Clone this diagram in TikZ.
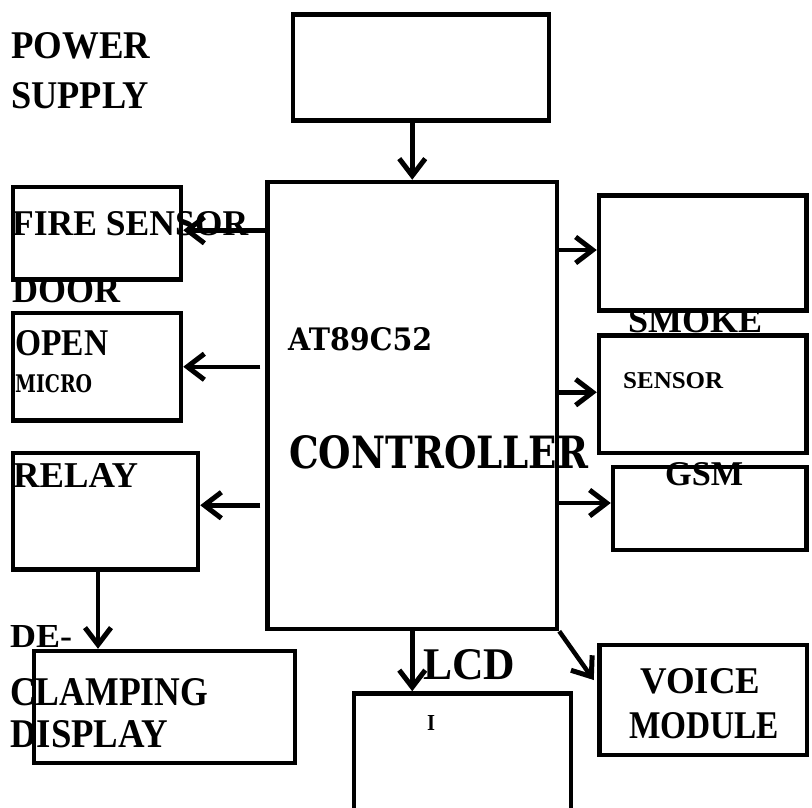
\documentclass[tikz,border=0pt]{standalone}
\usepackage{fontspec}
\setmainfont{Liberation Serif}
\newfontfamily\cambria{DejaVu Serif}
\usetikzlibrary{arrows.meta}
\newcommand{\fitT}[3]{\resizebox{#1pt}{#2pt}{\bfseries #3}}
\tikzset{
  blk/.style={draw=black, line width=4.5pt, rectangle, inner sep=0pt},
  arr/.style={draw=black, line width=4.5pt, -{Straight Barb[length=17pt,width=26pt,line width=5pt]}},
  lbl/.style={anchor=base west, inner sep=0pt, text=black},
}
\begin{document}
\begin{tikzpicture}[x=1pt,y=-1pt]
\clip (0,0) rectangle (812,808);
\fill[white] (0,0) rectangle (812,808);
% boxes
\node[blk, minimum width=256pt, minimum height=106pt] (ps) at (421,67.5) {};
\node[blk, minimum width=289.5pt, minimum height=447pt] (ctrl) at (412.25,405.5) {};
\node[blk, minimum width=168pt, minimum height=92.5pt] (fire) at (97,233.25) {};
\node[blk, minimum width=168pt, minimum height=107.5pt] (door) at (97,366.75) {};
\node[blk, minimum width=185pt, minimum height=116.5pt] (relay) at (105.5,511.25) {};
\node[blk, minimum width=261pt, minimum height=112pt] (declamp) at (164.5,707) {};
\node[blk, minimum width=217pt, minimum height=160pt] (lcd) at (354+108.5,693.5+80) {};
\node[blk, minimum width=207.5pt, minimum height=110pt] (voice) at (703.25,700) {};
\node[blk, minimum width=207.5pt, minimum height=115pt] (smokeA) at (702.75,253) {};
\node[blk, minimum width=207.5pt, minimum height=117.5pt] (smokeB) at (702.75,394.25) {};
\node[blk, minimum width=193.5pt, minimum height=83pt] (gsm) at (709.75,508.5) {};
% connectors
\draw[arr] (ps.south -| ctrl.north) -- (ctrl.north);
\draw[arr] ([yshift=3pt]fire.east -| ctrl.west) -- ([yshift=3pt]fire.east);
\draw[arr, shorten <=5pt] (door.east -| ctrl.west) -- (door.east);
\draw[arr, shorten <=5pt] ([yshift=6pt]relay.east -| ctrl.west) -- ([yshift=6pt]relay.east);
\draw[arr] ([xshift=-7.5pt]relay.south) -- ([xshift=-7.5pt]relay.south |- declamp.north);
\draw[arr] (ctrl.south) -- (ctrl.south |- lcd.north);
\draw[arr] (ctrl.south east) -- ([xshift=-3.5pt,yshift=20pt]voice.west);
\draw[arr] ([yshift=3pt]smokeA.west -| ctrl.east) -- ([yshift=3pt]smokeA.west);
\draw[arr] ([yshift=2pt]smokeB.west -| ctrl.east) -- ([yshift=2pt]smokeB.west);
\draw[arr] ([yshift=5.5pt]gsm.west -| ctrl.east) -- ([yshift=5.5pt]gsm.west);
% labels
\node[lbl] (tpower) at (11,59) {\fitT{139}{26}{POWER}};
\node[lbl] (tsupply) at (11,108) {\fitT{138}{26}{SUPPLY}};
\node[lbl] (tfire) at (12,235) {\fitT{236}{24}{FIRE SENSOR}};
\node[lbl] (tdoor) at (12,302) {\fitT{108}{25}{DOOR}};
\node[lbl] (topen) at (15,355) {\fitT{93}{25}{OPEN}};
\node[lbl] (tmicro) at (15,392) {\cambria\fitT{77}{18}{MICRO}};
\node[lbl] (tat) at (288,350) {\cambria\fitT{144}{23}{AT89C52}};
\node[lbl] (tctrl) at (289,468) {\cambria\fitT{299}{33}{CONTROLLER}};
\node[lbl] (trelay) at (13,487) {\fitT{125}{24}{RELAY}};
\node[lbl] (tsmoke) at (628,332) {\fitT{134}{24}{SMOKE}};
\node[lbl] (tsensor) at (623,388) {\fitT{100}{16}{SENSOR}};
\node[lbl] (tgsm) at (665,485) {\fitT{78}{23}{GSM}};
\node[lbl] (tde) at (10,647) {\fitT{62}{22}{DE-}};
\node[lbl] (tclamp) at (10,705) {\fitT{198}{27}{CLAMPING}};
\node[lbl] (tdisp) at (10,747) {\fitT{158}{27}{DISPLAY}};
\node[lbl] (tlcd) at (423,679) {\fitT{92}{30}{LCD}};
\node[lbl] (tlcdi) at (427,730) {\fitT{8}{15}{I}};
\node[lbl] (tvoice) at (640,693) {\fitT{120}{25}{VOICE}};
\node[lbl] (tmodule) at (629,738) {\fitT{150}{26}{MODULE}};
\end{tikzpicture}
\end{document}
